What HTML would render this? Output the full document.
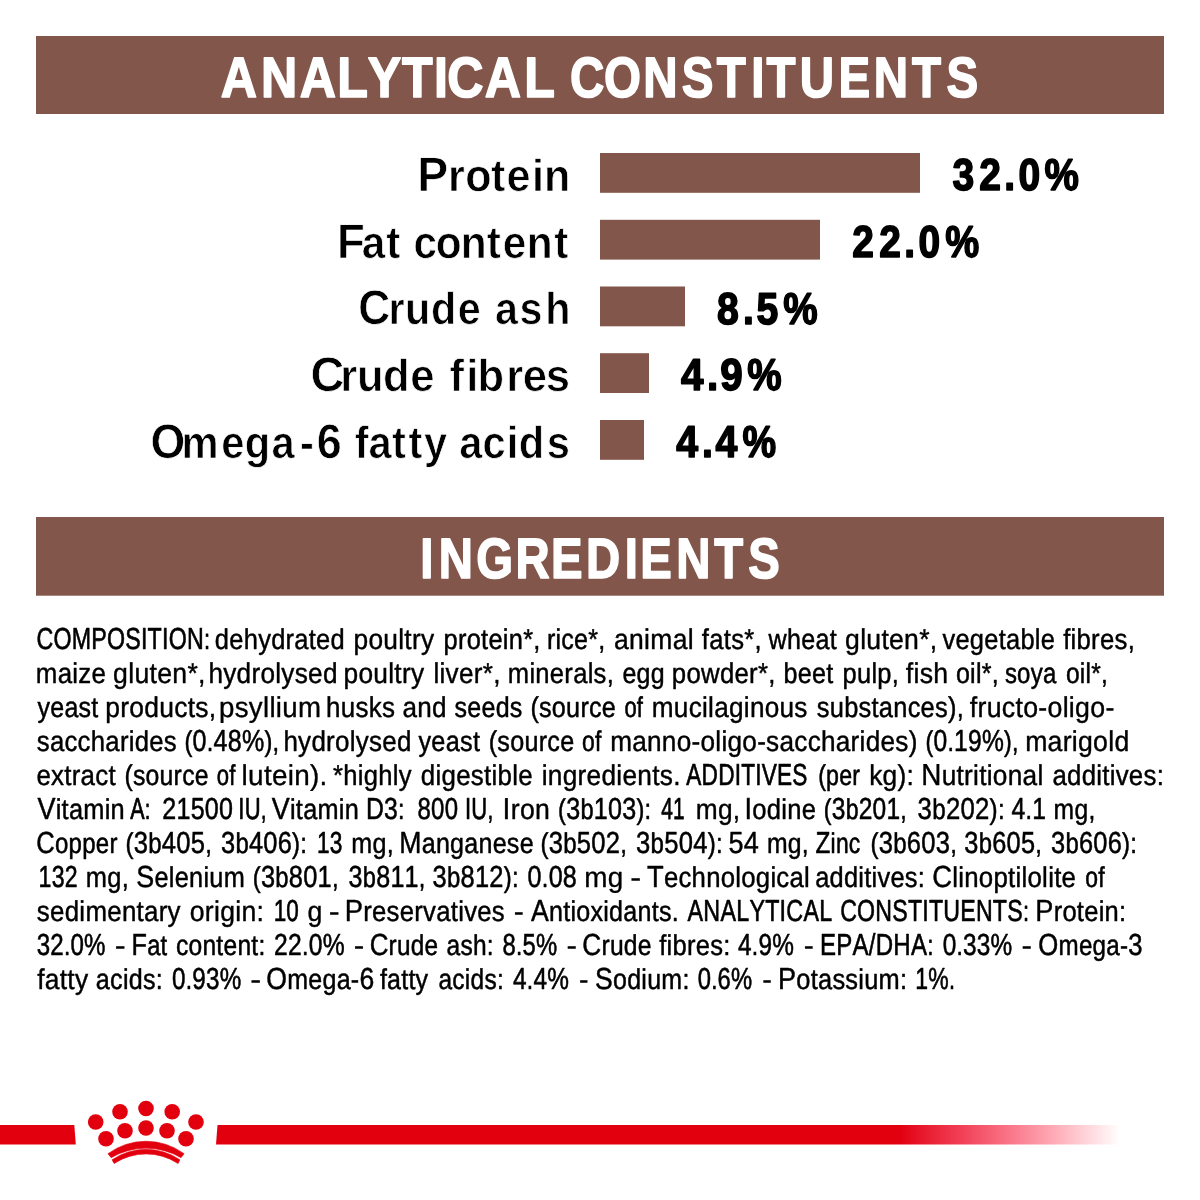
<!DOCTYPE html>
<html lang="en">
<head>
<meta charset="utf-8">
<title>Analytical constituents &amp; ingredients</title>
<style>
html,body{margin:0;padding:0;background:#fff;}
body{width:1200px;height:1200px;overflow:hidden;position:relative;font-family:"Liberation Sans", sans-serif;}
svg{position:absolute;left:0;top:0;display:block;will-change:transform;}
text{font-family:"Liberation Sans", sans-serif;white-space:pre;font-kerning:none;text-rendering:geometricPrecision;}
</style>
</head>
<body>
<svg width="1200" height="1200" viewBox="0 0 1200 1200">
<defs>
<linearGradient id="fade" gradientUnits="userSpaceOnUse" x1="900" y1="0" x2="1120" y2="0">
<stop offset="0" stop-color="#e2000f"/>
<stop offset="0.1" stop-color="#e8182c"/>
<stop offset="0.3" stop-color="#f2455b"/>
<stop offset="0.5" stop-color="#fa7689"/>
<stop offset="0.7" stop-color="#feabb6"/>
<stop offset="0.88" stop-color="#ffdde2"/>
<stop offset="1" stop-color="#ffffff"/>
</linearGradient>
</defs>
<rect x="0" y="0" width="1200" height="1200" fill="#fff"/>

<rect x="36" y="36" width="1128" height="78" fill="#82564a"/>
<rect x="36" y="517" width="1128" height="78.7" fill="#82564a"/>
<g id="headers">
<text transform="matrix(0.8838 0 0 1 0 0)" x="249.89 295.36 339.06 381.66 415.97 454.92 491.15 506.15 548.61 593.21" y="97.00" font-size="56.8" font-weight="bold" fill="#fff" stroke="#fff" stroke-width="1.6" stroke-linejoin="round">ANALYTICAL</text>
<text transform="matrix(0.8368 0 0 1 0 0)" x="681.32 721.81 768.67 814.85 856.65 897.79 915.92 955.82 1001.98 1044.23 1089.79 1131.11" y="97.00" font-size="56.8" font-weight="bold" fill="#fff" stroke="#fff" stroke-width="1.6" stroke-linejoin="round">CONSTITUENTS</text>
<text transform="matrix(0.8332 0 0 1 0 0)" x="504.25 526.62 571.59 618.79 661.39 703.35 749.68 768.33 811.61 857.11 898.10" y="578.00" font-size="56.8" font-weight="bold" fill="#fff" stroke="#fff" stroke-width="1.6" stroke-linejoin="round">INGREDIENTS</text>
</g>
<g id="chart">
<rect x="600" y="153.0" width="320" height="39.8" fill="#82564a"/>
<text transform="matrix(0.9556 0 0 1 0 0)" x="436.54 468.80 486.87 513.85 530.16 556.77 569.18" y="191.00" font-size="45.1" font-weight="bold" fill="#000" stroke="#fff" stroke-width="0.7"><tspan font-size="48.5">P</tspan>rotein</text>
<text transform="matrix(0.8762 0 0 1 0 0)" x="1087.18 1117.60 1146.12 1162.29" y="190.00" font-size="44.5" font-weight="bold" fill="#000" stroke="#000" stroke-width="1.6" stroke-linejoin="round">32.0</text>
<text x="1044.54" y="190.00" font-size="44.5" font-weight="bold" fill="#000" textLength="34.38" lengthAdjust="spacingAndGlyphs" stroke="#000" stroke-width="1.6" stroke-linejoin="round">%</text>
<rect x="600" y="219.8" width="220" height="39.8" fill="#82564a"/>
<text transform="matrix(0.9387 0 0 1 0 0)" x="359.01 385.40 411.42 425.91 440.52 464.28 490.88 518.48 535.66 561.29 590.46" y="258.00" font-size="45.1" font-weight="bold" fill="#000" stroke="#fff" stroke-width="0.7"><tspan font-size="48.5">F</tspan>at content</text>
<text transform="matrix(0.8735 0 0 1 0 0)" x="975.79 1006.63 1035.28 1051.49" y="257.00" font-size="44.5" font-weight="bold" fill="#000" stroke="#000" stroke-width="1.6" stroke-linejoin="round">22.0</text>
<text x="945.15" y="257.00" font-size="44.5" font-weight="bold" fill="#000" textLength="33.96" lengthAdjust="spacingAndGlyphs" stroke="#000" stroke-width="1.6" stroke-linejoin="round">%</text>
<rect x="600" y="286.5" width="85" height="39.8" fill="#82564a"/>
<text transform="matrix(0.9136 0 0 1 0 0)" x="392.23 425.13 443.37 471.64 501.10 524.76 541.84 568.50 596.93" y="324.00" font-size="45.1" font-weight="bold" fill="#000" stroke="#fff" stroke-width="0.7"><tspan font-size="48.5">C</tspan>rude ash</text>
<text transform="matrix(0.8792 0 0 1 0 0)" x="815.38 845.04 860.51" y="324.00" font-size="44.5" font-weight="bold" fill="#000" stroke="#000" stroke-width="1.6" stroke-linejoin="round">8.5</text>
<text x="783.14" y="324.00" font-size="44.5" font-weight="bold" fill="#000" textLength="34.38" lengthAdjust="spacingAndGlyphs" stroke="#000" stroke-width="1.6" stroke-linejoin="round">%</text>
<rect x="600" y="353.2" width="49" height="39.8" fill="#82564a"/>
<text transform="matrix(0.9658 0 0 1 0 0)" x="321.52 352.31 369.77 396.49 424.80 448.32 465.49 482.82 494.35 524.13 541.39 565.13" y="391.00" font-size="45.1" font-weight="bold" fill="#000" stroke="#fff" stroke-width="0.7"><tspan font-size="48.5">C</tspan>rude fibres</text>
<text transform="matrix(0.9077 0 0 1 0 0)" x="750.14 778.81 793.49" y="390.00" font-size="44.5" font-weight="bold" fill="#000" stroke="#000" stroke-width="1.6" stroke-linejoin="round">4.9</text>
<text x="747.14" y="390.00" font-size="44.5" font-weight="bold" fill="#000" textLength="34.38" lengthAdjust="spacingAndGlyphs" stroke="#000" stroke-width="1.6" stroke-linejoin="round">%</text>
<rect x="600" y="420.0" width="44" height="39.8" fill="#82564a"/>
<text transform="matrix(0.9224 0 0 1 0 0)" x="163.18 196.69 239.96 265.28 294.45 325.13 343.46 367.86 384.69 399.40 424.91 442.96 459.61 484.40 497.95 523.14 549.34 562.53 592.84" y="458.00" font-size="45.1" font-weight="bold" fill="#000" stroke="#fff" stroke-width="0.7"><tspan font-size="48.5">O</tspan>mega-<tspan font-size="48.5">6</tspan> fatty acids</text>
<text transform="matrix(0.8823 0 0 1 0 0)" x="766.44 795.58 811.06" y="457.00" font-size="44.5" font-weight="bold" fill="#000" stroke="#000" stroke-width="1.6" stroke-linejoin="round">4.4</text>
<text x="742.56" y="457.00" font-size="44.5" font-weight="bold" fill="#000" textLength="33.64" lengthAdjust="spacingAndGlyphs" stroke="#000" stroke-width="1.6" stroke-linejoin="round">%</text>
</g>
<g id="ingredients">
<g>
<text x="36.44" y="649.00" font-size="28.6" font-weight="normal" fill="#000" textLength="173.76" lengthAdjust="spacingAndGlyphs" letter-spacing="0.3" stroke="#000" stroke-width="0.64" stroke-linejoin="round"><tspan font-size="30.4">COMPOSITION</tspan>:</text>
<text x="214.86" y="649.00" font-size="28.6" font-weight="normal" fill="#000" textLength="130.12" lengthAdjust="spacingAndGlyphs" letter-spacing="0.3" stroke="#000" stroke-width="0.46" stroke-linejoin="round">dehydrated</text>
<text x="353.51" y="649.00" font-size="28.6" font-weight="normal" fill="#000" textLength="80.90" lengthAdjust="spacingAndGlyphs" letter-spacing="0.3" stroke="#000" stroke-width="0.42" stroke-linejoin="round">poultry</text>
<text x="443.60" y="649.00" font-size="28.6" font-weight="normal" fill="#000" textLength="97.02" lengthAdjust="spacingAndGlyphs" letter-spacing="0.3" stroke="#000" stroke-width="0.47" stroke-linejoin="round">protein*,</text>
<text x="546.88" y="649.00" font-size="28.6" font-weight="normal" fill="#000" textLength="58.70" lengthAdjust="spacingAndGlyphs" letter-spacing="0.3" stroke="#000" stroke-width="0.48" stroke-linejoin="round">rice*,</text>
<text x="614.08" y="649.00" font-size="28.6" font-weight="normal" fill="#000" textLength="79.77" lengthAdjust="spacingAndGlyphs" letter-spacing="0.3" stroke="#000" stroke-width="0.41" stroke-linejoin="round">animal</text>
<text x="701.87" y="649.00" font-size="28.6" font-weight="normal" fill="#000" textLength="59.97" lengthAdjust="spacingAndGlyphs" letter-spacing="0.3" stroke="#000" stroke-width="0.46" stroke-linejoin="round">fats*,</text>
<text x="768.58" y="649.00" font-size="28.6" font-weight="normal" fill="#000" textLength="68.33" lengthAdjust="spacingAndGlyphs" letter-spacing="0.3" stroke="#000" stroke-width="0.48" stroke-linejoin="round">wheat</text>
<text x="845.09" y="649.00" font-size="28.6" font-weight="normal" fill="#000" textLength="92.37" lengthAdjust="spacingAndGlyphs" letter-spacing="0.3" stroke="#000" stroke-width="0.41" stroke-linejoin="round">gluten*,</text>
<text x="942.44" y="649.00" font-size="28.6" font-weight="normal" fill="#000" textLength="112.72" lengthAdjust="spacingAndGlyphs" letter-spacing="0.3" stroke="#000" stroke-width="0.46" stroke-linejoin="round">vegetable</text>
<text x="1063.16" y="649.00" font-size="28.6" font-weight="normal" fill="#000" textLength="71.89" lengthAdjust="spacingAndGlyphs" letter-spacing="0.3" stroke="#000" stroke-width="0.45" stroke-linejoin="round">fibres,</text>
</g>
<g>
<text x="35.80" y="683.00" font-size="28.6" font-weight="normal" fill="#000" textLength="70.40" lengthAdjust="spacingAndGlyphs" letter-spacing="0.3" stroke="#000" stroke-width="0.44" stroke-linejoin="round">maize</text>
<text x="113.08" y="683.00" font-size="28.6" font-weight="normal" fill="#000" textLength="92.70" lengthAdjust="spacingAndGlyphs" letter-spacing="0.3" stroke="#000" stroke-width="0.4" stroke-linejoin="round">gluten*,</text>
<text x="208.40" y="683.00" font-size="28.6" font-weight="normal" fill="#000" textLength="129.35" lengthAdjust="spacingAndGlyphs" letter-spacing="0.3" stroke="#000" stroke-width="0.43" stroke-linejoin="round">hydrolysed</text>
<text x="343.51" y="683.00" font-size="28.6" font-weight="normal" fill="#000" textLength="80.90" lengthAdjust="spacingAndGlyphs" letter-spacing="0.3" stroke="#000" stroke-width="0.42" stroke-linejoin="round">poultry</text>
<text x="433.45" y="683.00" font-size="28.6" font-weight="normal" fill="#000" textLength="67.25" lengthAdjust="spacingAndGlyphs" letter-spacing="0.3" stroke="#000" stroke-width="0.43" stroke-linejoin="round">liver*,</text>
<text x="507.83" y="683.00" font-size="28.6" font-weight="normal" fill="#000" textLength="106.21" lengthAdjust="spacingAndGlyphs" letter-spacing="0.3" stroke="#000" stroke-width="0.46" stroke-linejoin="round">minerals,</text>
<text x="622.48" y="683.00" font-size="28.6" font-weight="normal" fill="#000" textLength="42.44" lengthAdjust="spacingAndGlyphs" letter-spacing="0.3" stroke="#000" stroke-width="0.49" stroke-linejoin="round">egg</text>
<text x="671.87" y="683.00" font-size="28.6" font-weight="normal" fill="#000" textLength="103.79" lengthAdjust="spacingAndGlyphs" letter-spacing="0.3" stroke="#000" stroke-width="0.45" stroke-linejoin="round">powder*,</text>
<text x="783.62" y="683.00" font-size="28.6" font-weight="normal" fill="#000" textLength="49.88" lengthAdjust="spacingAndGlyphs" letter-spacing="0.3" stroke="#000" stroke-width="0.48" stroke-linejoin="round">beet</text>
<text x="842.60" y="683.00" font-size="28.6" font-weight="normal" fill="#000" textLength="56.42" lengthAdjust="spacingAndGlyphs" letter-spacing="0.3" stroke="#000" stroke-width="0.47" stroke-linejoin="round">pulp,</text>
<text x="905.82" y="683.00" font-size="28.6" font-weight="normal" fill="#000" textLength="42.69" lengthAdjust="spacingAndGlyphs" letter-spacing="0.3" stroke="#000" stroke-width="0.4" stroke-linejoin="round">fish</text>
<text x="955.89" y="683.00" font-size="28.6" font-weight="normal" fill="#000" textLength="43.09" lengthAdjust="spacingAndGlyphs" letter-spacing="0.3" stroke="#000" stroke-width="0.48" stroke-linejoin="round">oil*,</text>
<text x="1004.90" y="683.00" font-size="28.6" font-weight="normal" fill="#000" textLength="51.58" lengthAdjust="spacingAndGlyphs" letter-spacing="0.3" stroke="#000" stroke-width="0.54" stroke-linejoin="round">soya</text>
<text x="1065.92" y="683.00" font-size="28.6" font-weight="normal" fill="#000" textLength="42.29" lengthAdjust="spacingAndGlyphs" letter-spacing="0.3" stroke="#000" stroke-width="0.51" stroke-linejoin="round">oil*,</text>
</g>
<g>
<text x="37.48" y="717.00" font-size="28.6" font-weight="normal" fill="#000" textLength="61.02" lengthAdjust="spacingAndGlyphs" letter-spacing="0.3" stroke="#000" stroke-width="0.49" stroke-linejoin="round">yeast</text>
<text x="105.21" y="717.00" font-size="28.6" font-weight="normal" fill="#000" textLength="111.24" lengthAdjust="spacingAndGlyphs" letter-spacing="0.3" stroke="#000" stroke-width="0.42" stroke-linejoin="round">products,</text>
<text x="219.10" y="717.00" font-size="28.6" font-weight="normal" fill="#000" textLength="102.13" lengthAdjust="spacingAndGlyphs" letter-spacing="0.3" stroke="#000" stroke-width="0.36" stroke-linejoin="round">psyllium</text>
<text x="326.12" y="717.00" font-size="28.6" font-weight="normal" fill="#000" textLength="69.17" lengthAdjust="spacingAndGlyphs" letter-spacing="0.3" stroke="#000" stroke-width="0.44" stroke-linejoin="round">husks</text>
<text x="402.41" y="717.00" font-size="28.6" font-weight="normal" fill="#000" textLength="44.33" lengthAdjust="spacingAndGlyphs" letter-spacing="0.3" stroke="#000" stroke-width="0.43" stroke-linejoin="round">and</text>
<text x="454.55" y="717.00" font-size="28.6" font-weight="normal" fill="#000" textLength="68.07" lengthAdjust="spacingAndGlyphs" letter-spacing="0.3" stroke="#000" stroke-width="0.49" stroke-linejoin="round">seeds</text>
<text x="530.38" y="717.00" font-size="28.6" font-weight="normal" fill="#000" textLength="85.76" lengthAdjust="spacingAndGlyphs" letter-spacing="0.3" stroke="#000" stroke-width="0.48" stroke-linejoin="round">(source</text>
<text x="624.39" y="717.00" font-size="28.6" font-weight="normal" fill="#000" textLength="18.79" lengthAdjust="spacingAndGlyphs" letter-spacing="0.3" stroke="#000" stroke-width="0.63" stroke-linejoin="round">of</text>
<text x="651.78" y="717.00" font-size="28.6" font-weight="normal" fill="#000" textLength="155.93" lengthAdjust="spacingAndGlyphs" letter-spacing="0.3" stroke="#000" stroke-width="0.43" stroke-linejoin="round">mucilaginous</text>
<text x="816.83" y="717.00" font-size="28.6" font-weight="normal" fill="#000" textLength="147.19" lengthAdjust="spacingAndGlyphs" letter-spacing="0.3" stroke="#000" stroke-width="0.47" stroke-linejoin="round">substances),</text>
<text x="969.82" y="717.00" font-size="28.6" font-weight="normal" fill="#000" textLength="144.75" lengthAdjust="spacingAndGlyphs" letter-spacing="0.3" stroke="#000" stroke-width="0.4" stroke-linejoin="round">fructo-oligo-</text>
</g>
<g>
<text x="36.81" y="751.00" font-size="28.6" font-weight="normal" fill="#000" textLength="140.16" lengthAdjust="spacingAndGlyphs" letter-spacing="0.3" stroke="#000" stroke-width="0.45" stroke-linejoin="round">saccharides</text>
<text x="184.52" y="751.00" font-size="28.6" font-weight="normal" fill="#000" textLength="94.87" lengthAdjust="spacingAndGlyphs" letter-spacing="0.3" stroke="#000" stroke-width="0.56" stroke-linejoin="round">(<tspan font-size="30.4">0</tspan>.<tspan font-size="30.4">48%</tspan>),</text>
<text x="283.42" y="751.00" font-size="28.6" font-weight="normal" fill="#000" textLength="128.31" lengthAdjust="spacingAndGlyphs" letter-spacing="0.3" stroke="#000" stroke-width="0.44" stroke-linejoin="round">hydrolysed</text>
<text x="418.47" y="751.00" font-size="28.6" font-weight="normal" fill="#000" textLength="61.74" lengthAdjust="spacingAndGlyphs" letter-spacing="0.3" stroke="#000" stroke-width="0.47" stroke-linejoin="round">yeast</text>
<text x="488.68" y="751.00" font-size="28.6" font-weight="normal" fill="#000" textLength="85.76" lengthAdjust="spacingAndGlyphs" letter-spacing="0.3" stroke="#000" stroke-width="0.48" stroke-linejoin="round">(source</text>
<text x="582.03" y="751.00" font-size="28.6" font-weight="normal" fill="#000" textLength="19.58" lengthAdjust="spacingAndGlyphs" letter-spacing="0.3" stroke="#000" stroke-width="0.59" stroke-linejoin="round">of</text>
<text x="610.18" y="751.00" font-size="28.6" font-weight="normal" fill="#000" textLength="307.50" lengthAdjust="spacingAndGlyphs" letter-spacing="0.3" stroke="#000" stroke-width="0.43" stroke-linejoin="round">manno-oligo-saccharides)</text>
<text x="925.55" y="751.00" font-size="28.6" font-weight="normal" fill="#000" textLength="93.18" lengthAdjust="spacingAndGlyphs" letter-spacing="0.3" stroke="#000" stroke-width="0.58" stroke-linejoin="round">(<tspan font-size="30.4">0</tspan>.<tspan font-size="30.4">19%</tspan>),</text>
<text x="1025.14" y="751.00" font-size="28.6" font-weight="normal" fill="#000" textLength="104.35" lengthAdjust="spacingAndGlyphs" letter-spacing="0.3" stroke="#000" stroke-width="0.41" stroke-linejoin="round">marigold</text>
</g>
<g>
<text x="36.42" y="785.00" font-size="28.6" font-weight="normal" fill="#000" textLength="79.52" lengthAdjust="spacingAndGlyphs" letter-spacing="0.3" stroke="#000" stroke-width="0.44" stroke-linejoin="round">extract</text>
<text x="124.41" y="785.00" font-size="28.6" font-weight="normal" fill="#000" textLength="84.40" lengthAdjust="spacingAndGlyphs" letter-spacing="0.3" stroke="#000" stroke-width="0.5" stroke-linejoin="round">(source</text>
<text x="216.69" y="785.00" font-size="28.6" font-weight="normal" fill="#000" textLength="18.90" lengthAdjust="spacingAndGlyphs" letter-spacing="0.3" stroke="#000" stroke-width="0.63" stroke-linejoin="round">of</text>
<text x="241.59" y="785.00" font-size="28.6" font-weight="normal" fill="#000" textLength="86.08" lengthAdjust="spacingAndGlyphs" letter-spacing="0.3" stroke="#000" stroke-width="0.34" stroke-linejoin="round">lutein).</text>
<text x="333.12" y="785.00" font-size="28.6" font-weight="normal" fill="#000" textLength="78.67" lengthAdjust="spacingAndGlyphs" letter-spacing="0.3" stroke="#000" stroke-width="0.46" stroke-linejoin="round">*highly</text>
<text x="420.83" y="785.00" font-size="28.6" font-weight="normal" fill="#000" textLength="112.07" lengthAdjust="spacingAndGlyphs" letter-spacing="0.3" stroke="#000" stroke-width="0.44" stroke-linejoin="round">digestible</text>
<text x="541.76" y="785.00" font-size="28.6" font-weight="normal" fill="#000" textLength="139.00" lengthAdjust="spacingAndGlyphs" letter-spacing="0.3" stroke="#000" stroke-width="0.43" stroke-linejoin="round">ingredients.</text>
<text x="686.29" y="785.00" font-size="28.6" font-weight="normal" fill="#000" textLength="121.33" lengthAdjust="spacingAndGlyphs" letter-spacing="0.3" stroke="#000" stroke-width="0.67" stroke-linejoin="round"><tspan font-size="30.4">ADDITIVES</tspan></text>
<text x="818.15" y="785.00" font-size="28.6" font-weight="normal" fill="#000" textLength="42.18" lengthAdjust="spacingAndGlyphs" letter-spacing="0.3" stroke="#000" stroke-width="0.58" stroke-linejoin="round">(per</text>
<text x="869.13" y="785.00" font-size="28.6" font-weight="normal" fill="#000" textLength="45.04" lengthAdjust="spacingAndGlyphs" letter-spacing="0.3" stroke="#000" stroke-width="0.42" stroke-linejoin="round">kg):</text>
<text x="921.23" y="785.00" font-size="28.6" font-weight="normal" fill="#000" textLength="122.29" lengthAdjust="spacingAndGlyphs" letter-spacing="0.3" stroke="#000" stroke-width="0.43" stroke-linejoin="round"><tspan font-size="30.4">N</tspan>utritional</text>
<text x="1052.43" y="785.00" font-size="28.6" font-weight="normal" fill="#000" textLength="111.67" lengthAdjust="spacingAndGlyphs" letter-spacing="0.3" stroke="#000" stroke-width="0.45" stroke-linejoin="round">additives:</text>
</g>
<g>
<text x="37.42" y="819.00" font-size="28.6" font-weight="normal" fill="#000" textLength="87.56" lengthAdjust="spacingAndGlyphs" letter-spacing="0.3" stroke="#000" stroke-width="0.47" stroke-linejoin="round"><tspan font-size="30.4">V</tspan>itamin</text>
<text x="130.32" y="819.00" font-size="28.6" font-weight="normal" fill="#000" textLength="20.38" lengthAdjust="spacingAndGlyphs" letter-spacing="0.3" stroke="#000" stroke-width="0.72" stroke-linejoin="round"><tspan font-size="30.4">A</tspan>:</text>
<text x="162.32" y="819.00" font-size="28.6" font-weight="normal" fill="#000" textLength="70.93" lengthAdjust="spacingAndGlyphs" letter-spacing="0.3" stroke="#000" stroke-width="0.56" stroke-linejoin="round"><tspan font-size="30.4">21500</tspan></text>
<text x="238.32" y="819.00" font-size="28.6" font-weight="normal" fill="#000" textLength="28.41" lengthAdjust="spacingAndGlyphs" letter-spacing="0.3" stroke="#000" stroke-width="0.7" stroke-linejoin="round"><tspan font-size="30.4">IU</tspan>,</text>
<text x="271.82" y="819.00" font-size="28.6" font-weight="normal" fill="#000" textLength="87.15" lengthAdjust="spacingAndGlyphs" letter-spacing="0.3" stroke="#000" stroke-width="0.47" stroke-linejoin="round"><tspan font-size="30.4">V</tspan>itamin</text>
<text x="365.96" y="819.00" font-size="28.6" font-weight="normal" fill="#000" textLength="38.83" lengthAdjust="spacingAndGlyphs" letter-spacing="0.3" stroke="#000" stroke-width="0.57" stroke-linejoin="round"><tspan font-size="30.4">D3</tspan>:</text>
<text x="417.57" y="819.00" font-size="28.6" font-weight="normal" fill="#000" textLength="40.60" lengthAdjust="spacingAndGlyphs" letter-spacing="0.3" stroke="#000" stroke-width="0.61" stroke-linejoin="round"><tspan font-size="30.4">800</tspan></text>
<text x="465.02" y="819.00" font-size="28.6" font-weight="normal" fill="#000" textLength="28.41" lengthAdjust="spacingAndGlyphs" letter-spacing="0.3" stroke="#000" stroke-width="0.7" stroke-linejoin="round"><tspan font-size="30.4">IU</tspan>,</text>
<text x="502.59" y="819.00" font-size="28.6" font-weight="normal" fill="#000" textLength="47.52" lengthAdjust="spacingAndGlyphs" letter-spacing="0.3" stroke="#000" stroke-width="0.41" stroke-linejoin="round"><tspan font-size="30.4">I</tspan>ron</text>
<text x="558.11" y="819.00" font-size="28.6" font-weight="normal" fill="#000" textLength="93.32" lengthAdjust="spacingAndGlyphs" letter-spacing="0.3" stroke="#000" stroke-width="0.55" stroke-linejoin="round">(<tspan font-size="30.4">3</tspan>b<tspan font-size="30.4">103</tspan>):</text>
<text x="661.20" y="819.00" font-size="28.6" font-weight="normal" fill="#000" textLength="23.66" lengthAdjust="spacingAndGlyphs" letter-spacing="0.3" stroke="#000" stroke-width="0.75" stroke-linejoin="round"><tspan font-size="30.4">41</tspan></text>
<text x="695.76" y="819.00" font-size="28.6" font-weight="normal" fill="#000" textLength="44.66" lengthAdjust="spacingAndGlyphs" letter-spacing="0.3" stroke="#000" stroke-width="0.42" stroke-linejoin="round">mg,</text>
<text x="744.42" y="819.00" font-size="28.6" font-weight="normal" fill="#000" textLength="71.75" lengthAdjust="spacingAndGlyphs" letter-spacing="0.3" stroke="#000" stroke-width="0.46" stroke-linejoin="round"><tspan font-size="30.4">I</tspan>odine</text>
<text x="823.86" y="819.00" font-size="28.6" font-weight="normal" fill="#000" textLength="83.17" lengthAdjust="spacingAndGlyphs" letter-spacing="0.3" stroke="#000" stroke-width="0.58" stroke-linejoin="round">(<tspan font-size="30.4">3</tspan>b<tspan font-size="30.4">201</tspan>,</text>
<text x="917.58" y="819.00" font-size="28.6" font-weight="normal" fill="#000" textLength="87.33" lengthAdjust="spacingAndGlyphs" letter-spacing="0.3" stroke="#000" stroke-width="0.52" stroke-linejoin="round"><tspan font-size="30.4">3</tspan>b<tspan font-size="30.4">202</tspan>):</text>
<text x="1011.42" y="819.00" font-size="28.6" font-weight="normal" fill="#000" textLength="34.75" lengthAdjust="spacingAndGlyphs" letter-spacing="0.3" stroke="#000" stroke-width="0.57" stroke-linejoin="round"><tspan font-size="30.4">4</tspan>.<tspan font-size="30.4">1</tspan></text>
<text x="1053.61" y="819.00" font-size="28.6" font-weight="normal" fill="#000" textLength="41.91" lengthAdjust="spacingAndGlyphs" letter-spacing="0.3" stroke="#000" stroke-width="0.5" stroke-linejoin="round">mg,</text>
</g>
<g>
<text x="36.27" y="853.00" font-size="28.6" font-weight="normal" fill="#000" textLength="81.42" lengthAdjust="spacingAndGlyphs" letter-spacing="0.3" stroke="#000" stroke-width="0.53" stroke-linejoin="round"><tspan font-size="30.4">C</tspan>opper</text>
<text x="125.47" y="853.00" font-size="28.6" font-weight="normal" fill="#000" textLength="86.67" lengthAdjust="spacingAndGlyphs" letter-spacing="0.3" stroke="#000" stroke-width="0.53" stroke-linejoin="round">(<tspan font-size="30.4">3</tspan>b<tspan font-size="30.4">405</tspan>,</text>
<text x="221.00" y="853.00" font-size="28.6" font-weight="normal" fill="#000" textLength="86.16" lengthAdjust="spacingAndGlyphs" letter-spacing="0.3" stroke="#000" stroke-width="0.54" stroke-linejoin="round"><tspan font-size="30.4">3</tspan>b<tspan font-size="30.4">406</tspan>):</text>
<text x="316.90" y="853.00" font-size="28.6" font-weight="normal" fill="#000" textLength="25.69" lengthAdjust="spacingAndGlyphs" letter-spacing="0.3" stroke="#000" stroke-width="0.66" stroke-linejoin="round"><tspan font-size="30.4">13</tspan></text>
<text x="351.27" y="853.00" font-size="28.6" font-weight="normal" fill="#000" textLength="42.71" lengthAdjust="spacingAndGlyphs" letter-spacing="0.3" stroke="#000" stroke-width="0.48" stroke-linejoin="round">mg,</text>
<text x="399.26" y="853.00" font-size="28.6" font-weight="normal" fill="#000" textLength="134.58" lengthAdjust="spacingAndGlyphs" letter-spacing="0.3" stroke="#000" stroke-width="0.48" stroke-linejoin="round"><tspan font-size="30.4">M</tspan>anganese</text>
<text x="540.47" y="853.00" font-size="28.6" font-weight="normal" fill="#000" textLength="86.67" lengthAdjust="spacingAndGlyphs" letter-spacing="0.3" stroke="#000" stroke-width="0.53" stroke-linejoin="round">(<tspan font-size="30.4">3</tspan>b<tspan font-size="30.4">502</tspan>,</text>
<text x="635.99" y="853.00" font-size="28.6" font-weight="normal" fill="#000" textLength="86.90" lengthAdjust="spacingAndGlyphs" letter-spacing="0.3" stroke="#000" stroke-width="0.53" stroke-linejoin="round"><tspan font-size="30.4">3</tspan>b<tspan font-size="30.4">504</tspan>):</text>
<text x="728.44" y="853.00" font-size="28.6" font-weight="normal" fill="#000" textLength="30.69" lengthAdjust="spacingAndGlyphs" letter-spacing="0.3" stroke="#000" stroke-width="0.46" stroke-linejoin="round"><tspan font-size="30.4">54</tspan></text>
<text x="766.91" y="853.00" font-size="28.6" font-weight="normal" fill="#000" textLength="42.03" lengthAdjust="spacingAndGlyphs" letter-spacing="0.3" stroke="#000" stroke-width="0.5" stroke-linejoin="round">mg,</text>
<text x="815.52" y="853.00" font-size="28.6" font-weight="normal" fill="#000" textLength="45.02" lengthAdjust="spacingAndGlyphs" letter-spacing="0.3" stroke="#000" stroke-width="0.59" stroke-linejoin="round"><tspan font-size="30.4">Z</tspan>inc</text>
<text x="870.47" y="853.00" font-size="28.6" font-weight="normal" fill="#000" textLength="86.67" lengthAdjust="spacingAndGlyphs" letter-spacing="0.3" stroke="#000" stroke-width="0.53" stroke-linejoin="round">(<tspan font-size="30.4">3</tspan>b<tspan font-size="30.4">603</tspan>,</text>
<text x="964.30" y="853.00" font-size="28.6" font-weight="normal" fill="#000" textLength="77.82" lengthAdjust="spacingAndGlyphs" letter-spacing="0.3" stroke="#000" stroke-width="0.54" stroke-linejoin="round"><tspan font-size="30.4">3</tspan>b<tspan font-size="30.4">605</tspan>,</text>
<text x="1051.00" y="853.00" font-size="28.6" font-weight="normal" fill="#000" textLength="86.16" lengthAdjust="spacingAndGlyphs" letter-spacing="0.3" stroke="#000" stroke-width="0.54" stroke-linejoin="round"><tspan font-size="30.4">3</tspan>b<tspan font-size="30.4">606</tspan>):</text>
</g>
<g>
<text x="38.57" y="887.00" font-size="28.6" font-weight="normal" fill="#000" textLength="39.20" lengthAdjust="spacingAndGlyphs" letter-spacing="0.3" stroke="#000" stroke-width="0.65" stroke-linejoin="round"><tspan font-size="30.4">132</tspan></text>
<text x="85.85" y="887.00" font-size="28.6" font-weight="normal" fill="#000" textLength="43.17" lengthAdjust="spacingAndGlyphs" letter-spacing="0.3" stroke="#000" stroke-width="0.47" stroke-linejoin="round">mg,</text>
<text x="136.31" y="887.00" font-size="28.6" font-weight="normal" fill="#000" textLength="108.69" lengthAdjust="spacingAndGlyphs" letter-spacing="0.3" stroke="#000" stroke-width="0.47" stroke-linejoin="round"><tspan font-size="30.4">S</tspan>elenium</text>
<text x="252.79" y="887.00" font-size="28.6" font-weight="normal" fill="#000" textLength="86.03" lengthAdjust="spacingAndGlyphs" letter-spacing="0.3" stroke="#000" stroke-width="0.54" stroke-linejoin="round">(<tspan font-size="30.4">3</tspan>b<tspan font-size="30.4">801</tspan>,</text>
<text x="348.62" y="887.00" font-size="28.6" font-weight="normal" fill="#000" textLength="76.97" lengthAdjust="spacingAndGlyphs" letter-spacing="0.3" stroke="#000" stroke-width="0.55" stroke-linejoin="round"><tspan font-size="30.4">3</tspan>b<tspan font-size="30.4">811</tspan>,</text>
<text x="432.60" y="887.00" font-size="28.6" font-weight="normal" fill="#000" textLength="86.26" lengthAdjust="spacingAndGlyphs" letter-spacing="0.3" stroke="#000" stroke-width="0.54" stroke-linejoin="round"><tspan font-size="30.4">3</tspan>b<tspan font-size="30.4">812</tspan>):</text>
<text x="527.59" y="887.00" font-size="28.6" font-weight="normal" fill="#000" textLength="49.47" lengthAdjust="spacingAndGlyphs" letter-spacing="0.3" stroke="#000" stroke-width="0.55" stroke-linejoin="round"><tspan font-size="30.4">0</tspan>.<tspan font-size="30.4">08</tspan></text>
<text x="584.32" y="887.00" font-size="28.6" font-weight="normal" fill="#000" textLength="39.29" lengthAdjust="spacingAndGlyphs" letter-spacing="0.3" stroke="#000" stroke-width="0.35" stroke-linejoin="round">mg</text>
<text x="630.39" y="887.00" font-size="28.6" font-weight="normal" fill="#000" textLength="11.26" lengthAdjust="spacingAndGlyphs" letter-spacing="0.3" stroke="#000" stroke-width="0.3" stroke-linejoin="round">-</text>
<text x="646.91" y="887.00" font-size="28.6" font-weight="normal" fill="#000" textLength="163.15" lengthAdjust="spacingAndGlyphs" letter-spacing="0.3" stroke="#000" stroke-width="0.45" stroke-linejoin="round"><tspan font-size="30.4">T</tspan>echnological</text>
<text x="815.16" y="887.00" font-size="28.6" font-weight="normal" fill="#000" textLength="109.89" lengthAdjust="spacingAndGlyphs" letter-spacing="0.3" stroke="#000" stroke-width="0.47" stroke-linejoin="round">additives:</text>
<text x="932.13" y="887.00" font-size="28.6" font-weight="normal" fill="#000" textLength="144.06" lengthAdjust="spacingAndGlyphs" letter-spacing="0.3" stroke="#000" stroke-width="0.45" stroke-linejoin="round"><tspan font-size="30.4">C</tspan>linoptilolite</text>
<text x="1085.33" y="887.00" font-size="28.6" font-weight="normal" fill="#000" textLength="19.58" lengthAdjust="spacingAndGlyphs" letter-spacing="0.3" stroke="#000" stroke-width="0.59" stroke-linejoin="round">of</text>
</g>
<g>
<text x="36.80" y="921.00" font-size="28.6" font-weight="normal" fill="#000" textLength="144.00" lengthAdjust="spacingAndGlyphs" letter-spacing="0.3" stroke="#000" stroke-width="0.44" stroke-linejoin="round">sedimentary</text>
<text x="189.79" y="921.00" font-size="28.6" font-weight="normal" fill="#000" textLength="74.42" lengthAdjust="spacingAndGlyphs" letter-spacing="0.3" stroke="#000" stroke-width="0.41" stroke-linejoin="round">origin:</text>
<text x="273.63" y="921.00" font-size="28.6" font-weight="normal" fill="#000" textLength="25.43" lengthAdjust="spacingAndGlyphs" letter-spacing="0.3" stroke="#000" stroke-width="0.68" stroke-linejoin="round"><tspan font-size="30.4">10</tspan></text>
<text x="307.38" y="921.00" font-size="28.6" font-weight="normal" fill="#000" textLength="15.12" lengthAdjust="spacingAndGlyphs" letter-spacing="0.3" stroke="#000" stroke-width="0.4" stroke-linejoin="round">g</text>
<text x="328.69" y="921.00" font-size="28.6" font-weight="normal" fill="#000" textLength="11.26" lengthAdjust="spacingAndGlyphs" letter-spacing="0.3" stroke="#000" stroke-width="0.3" stroke-linejoin="round">-</text>
<text x="344.68" y="921.00" font-size="28.6" font-weight="normal" fill="#000" textLength="160.29" lengthAdjust="spacingAndGlyphs" letter-spacing="0.3" stroke="#000" stroke-width="0.45" stroke-linejoin="round"><tspan font-size="30.4">P</tspan>reservatives</text>
<text x="513.80" y="921.00" font-size="28.6" font-weight="normal" fill="#000" textLength="10.41" lengthAdjust="spacingAndGlyphs" letter-spacing="0.3" stroke="#000" stroke-width="0.3" stroke-linejoin="round">-</text>
<text x="530.89" y="921.00" font-size="28.6" font-weight="normal" fill="#000" textLength="148.13" lengthAdjust="spacingAndGlyphs" letter-spacing="0.3" stroke="#000" stroke-width="0.48" stroke-linejoin="round"><tspan font-size="30.4">A</tspan>ntioxidants.</text>
<text x="687.57" y="921.00" font-size="28.6" font-weight="normal" fill="#000" textLength="144.81" lengthAdjust="spacingAndGlyphs" letter-spacing="0.3" stroke="#000" stroke-width="0.64" stroke-linejoin="round"><tspan font-size="30.4">ANALYTICAL</tspan></text>
<text x="840.14" y="921.00" font-size="28.6" font-weight="normal" fill="#000" textLength="189.05" lengthAdjust="spacingAndGlyphs" letter-spacing="0.3" stroke="#000" stroke-width="0.64" stroke-linejoin="round"><tspan font-size="30.4">CONSTITUENTS</tspan>:</text>
<text x="1035.31" y="921.00" font-size="28.6" font-weight="normal" fill="#000" textLength="91.06" lengthAdjust="spacingAndGlyphs" letter-spacing="0.3" stroke="#000" stroke-width="0.46" stroke-linejoin="round"><tspan font-size="30.4">P</tspan>rotein:</text>
</g>
<g>
<text x="36.68" y="955.00" font-size="28.6" font-weight="normal" fill="#000" textLength="69.11" lengthAdjust="spacingAndGlyphs" letter-spacing="0.3" stroke="#000" stroke-width="0.6" stroke-linejoin="round"><tspan font-size="30.4">32</tspan>.<tspan font-size="30.4">0%</tspan></text>
<text x="114.69" y="955.00" font-size="28.6" font-weight="normal" fill="#000" textLength="11.26" lengthAdjust="spacingAndGlyphs" letter-spacing="0.3" stroke="#000" stroke-width="0.3" stroke-linejoin="round">-</text>
<text x="131.51" y="955.00" font-size="28.6" font-weight="normal" fill="#000" textLength="35.94" lengthAdjust="spacingAndGlyphs" letter-spacing="0.3" stroke="#000" stroke-width="0.55" stroke-linejoin="round"><tspan font-size="30.4">F</tspan>at</text>
<text x="175.91" y="955.00" font-size="28.6" font-weight="normal" fill="#000" textLength="89.64" lengthAdjust="spacingAndGlyphs" letter-spacing="0.3" stroke="#000" stroke-width="0.51" stroke-linejoin="round">content:</text>
<text x="274.04" y="955.00" font-size="28.6" font-weight="normal" fill="#000" textLength="70.79" lengthAdjust="spacingAndGlyphs" letter-spacing="0.3" stroke="#000" stroke-width="0.57" stroke-linejoin="round"><tspan font-size="30.4">22</tspan>.<tspan font-size="30.4">0%</tspan></text>
<text x="353.75" y="955.00" font-size="28.6" font-weight="normal" fill="#000" textLength="10.83" lengthAdjust="spacingAndGlyphs" letter-spacing="0.3" stroke="#000" stroke-width="0.3" stroke-linejoin="round">-</text>
<text x="369.65" y="955.00" font-size="28.6" font-weight="normal" fill="#000" textLength="68.73" lengthAdjust="spacingAndGlyphs" letter-spacing="0.3" stroke="#000" stroke-width="0.52" stroke-linejoin="round"><tspan font-size="30.4">C</tspan>rude</text>
<text x="446.51" y="955.00" font-size="28.6" font-weight="normal" fill="#000" textLength="47.43" lengthAdjust="spacingAndGlyphs" letter-spacing="0.3" stroke="#000" stroke-width="0.51" stroke-linejoin="round">ash:</text>
<text x="502.57" y="955.00" font-size="28.6" font-weight="normal" fill="#000" textLength="54.91" lengthAdjust="spacingAndGlyphs" letter-spacing="0.3" stroke="#000" stroke-width="0.61" stroke-linejoin="round"><tspan font-size="30.4">8</tspan>.<tspan font-size="30.4">5%</tspan></text>
<text x="566.45" y="955.00" font-size="28.6" font-weight="normal" fill="#000" textLength="10.83" lengthAdjust="spacingAndGlyphs" letter-spacing="0.3" stroke="#000" stroke-width="0.3" stroke-linejoin="round">-</text>
<text x="582.22" y="955.00" font-size="28.6" font-weight="normal" fill="#000" textLength="69.59" lengthAdjust="spacingAndGlyphs" letter-spacing="0.3" stroke="#000" stroke-width="0.5" stroke-linejoin="round"><tspan font-size="30.4">C</tspan>rude</text>
<text x="659.17" y="955.00" font-size="28.6" font-weight="normal" fill="#000" textLength="71.50" lengthAdjust="spacingAndGlyphs" letter-spacing="0.3" stroke="#000" stroke-width="0.46" stroke-linejoin="round">fibres:</text>
<text x="738.04" y="955.00" font-size="28.6" font-weight="normal" fill="#000" textLength="56.08" lengthAdjust="spacingAndGlyphs" letter-spacing="0.3" stroke="#000" stroke-width="0.59" stroke-linejoin="round"><tspan font-size="30.4">4</tspan>.<tspan font-size="30.4">9%</tspan></text>
<text x="803.80" y="955.00" font-size="28.6" font-weight="normal" fill="#000" textLength="10.41" lengthAdjust="spacingAndGlyphs" letter-spacing="0.3" stroke="#000" stroke-width="0.3" stroke-linejoin="round">-</text>
<text x="820.03" y="955.00" font-size="28.6" font-weight="normal" fill="#000" textLength="113.67" lengthAdjust="spacingAndGlyphs" letter-spacing="0.3" stroke="#000" stroke-width="0.6" stroke-linejoin="round"><tspan font-size="30.4">EPA/DHA</tspan>:</text>
<text x="942.64" y="955.00" font-size="28.6" font-weight="normal" fill="#000" textLength="69.87" lengthAdjust="spacingAndGlyphs" letter-spacing="0.3" stroke="#000" stroke-width="0.59" stroke-linejoin="round"><tspan font-size="30.4">0</tspan>.<tspan font-size="30.4">33%</tspan></text>
<text x="1021.45" y="955.00" font-size="28.6" font-weight="normal" fill="#000" textLength="10.83" lengthAdjust="spacingAndGlyphs" letter-spacing="0.3" stroke="#000" stroke-width="0.3" stroke-linejoin="round">-</text>
<text x="1038.35" y="955.00" font-size="28.6" font-weight="normal" fill="#000" textLength="104.47" lengthAdjust="spacingAndGlyphs" letter-spacing="0.3" stroke="#000" stroke-width="0.53" stroke-linejoin="round"><tspan font-size="30.4">O</tspan>mega-<tspan font-size="30.4">3</tspan></text>
</g>
<g>
<text x="37.14" y="989.00" font-size="28.6" font-weight="normal" fill="#000" textLength="51.28" lengthAdjust="spacingAndGlyphs" letter-spacing="0.3" stroke="#000" stroke-width="0.42" stroke-linejoin="round">fatty</text>
<text x="95.87" y="989.00" font-size="28.6" font-weight="normal" fill="#000" textLength="67.14" lengthAdjust="spacingAndGlyphs" letter-spacing="0.3" stroke="#000" stroke-width="0.48" stroke-linejoin="round">acids:</text>
<text x="172.05" y="989.00" font-size="28.6" font-weight="normal" fill="#000" textLength="69.46" lengthAdjust="spacingAndGlyphs" letter-spacing="0.3" stroke="#000" stroke-width="0.59" stroke-linejoin="round"><tspan font-size="30.4">0</tspan>.<tspan font-size="30.4">93%</tspan></text>
<text x="250.39" y="989.00" font-size="28.6" font-weight="normal" fill="#000" textLength="11.26" lengthAdjust="spacingAndGlyphs" letter-spacing="0.3" stroke="#000" stroke-width="0.3" stroke-linejoin="round">-</text>
<text x="266.29" y="989.00" font-size="28.6" font-weight="normal" fill="#000" textLength="108.20" lengthAdjust="spacingAndGlyphs" letter-spacing="0.3" stroke="#000" stroke-width="0.49" stroke-linejoin="round"><tspan font-size="30.4">O</tspan>mega-<tspan font-size="30.4">6</tspan></text>
<text x="379.89" y="989.00" font-size="28.6" font-weight="normal" fill="#000" textLength="48.47" lengthAdjust="spacingAndGlyphs" letter-spacing="0.3" stroke="#000" stroke-width="0.49" stroke-linejoin="round">fatty</text>
<text x="438.52" y="989.00" font-size="28.6" font-weight="normal" fill="#000" textLength="65.42" lengthAdjust="spacingAndGlyphs" letter-spacing="0.3" stroke="#000" stroke-width="0.51" stroke-linejoin="round">acids:</text>
<text x="513.04" y="989.00" font-size="28.6" font-weight="normal" fill="#000" textLength="56.08" lengthAdjust="spacingAndGlyphs" letter-spacing="0.3" stroke="#000" stroke-width="0.59" stroke-linejoin="round"><tspan font-size="30.4">4</tspan>.<tspan font-size="30.4">4%</tspan></text>
<text x="578.88" y="989.00" font-size="28.6" font-weight="normal" fill="#000" textLength="9.83" lengthAdjust="spacingAndGlyphs" letter-spacing="0.3" stroke="#000" stroke-width="0.31" stroke-linejoin="round">-</text>
<text x="595.04" y="989.00" font-size="28.6" font-weight="normal" fill="#000" textLength="94.56" lengthAdjust="spacingAndGlyphs" letter-spacing="0.3" stroke="#000" stroke-width="0.49" stroke-linejoin="round"><tspan font-size="30.4">S</tspan>odium:</text>
<text x="697.68" y="989.00" font-size="28.6" font-weight="normal" fill="#000" textLength="54.80" lengthAdjust="spacingAndGlyphs" letter-spacing="0.3" stroke="#000" stroke-width="0.61" stroke-linejoin="round"><tspan font-size="30.4">0</tspan>.<tspan font-size="30.4">6%</tspan></text>
<text x="762.16" y="989.00" font-size="28.6" font-weight="normal" fill="#000" textLength="9.99" lengthAdjust="spacingAndGlyphs" letter-spacing="0.3" stroke="#000" stroke-width="0.3" stroke-linejoin="round">-</text>
<text x="778.02" y="989.00" font-size="28.6" font-weight="normal" fill="#000" textLength="129.33" lengthAdjust="spacingAndGlyphs" letter-spacing="0.3" stroke="#000" stroke-width="0.47" stroke-linejoin="round"><tspan font-size="30.4">P</tspan>otassium:</text>
<text x="915.27" y="989.00" font-size="28.6" font-weight="normal" fill="#000" textLength="39.90" lengthAdjust="spacingAndGlyphs" letter-spacing="0.3" stroke="#000" stroke-width="0.65" stroke-linejoin="round"><tspan font-size="30.4">1%</tspan>.</text>
</g>
</g>
<g id="footer">
<polygon points="0,1125 74.3,1125 75.8,1144.5 0,1144.5" fill="#e2000f"/>
<polygon points="217.5,1125 1120,1125 1120,1144.5 216,1144.5" fill="url(#fade)"/>
<circle cx="95.7" cy="1122" r="7.8" fill="#e2000f"/>
<circle cx="120" cy="1111.8" r="7.8" fill="#e2000f"/>
<circle cx="146" cy="1108.5" r="7.8" fill="#e2000f"/>
<circle cx="172.2" cy="1111.8" r="7.8" fill="#e2000f"/>
<circle cx="196" cy="1122" r="7.8" fill="#e2000f"/>
<circle cx="106" cy="1138.8" r="7.8" fill="#e2000f"/>
<circle cx="125" cy="1130.7" r="7.8" fill="#e2000f"/>
<circle cx="146" cy="1128" r="7.8" fill="#e2000f"/>
<circle cx="167" cy="1130.7" r="7.8" fill="#e2000f"/>
<circle cx="186" cy="1138.8" r="7.8" fill="#e2000f"/>
<path d="M107.9 1153.7 A64.4 64.4 0 0 1 184.1 1153.7 L181 1157.7 A68.6 68.6 0 0 0 111.2 1157.7 Z" fill="#e2000f" stroke="#e2000f" stroke-width="0.6" stroke-linejoin="round"/>
<path d="M112.1 1159.8 A59.7 59.7 0 0 1 179.9 1159.8 L178.1 1163.5 A58.5 58.5 0 0 0 114.1 1163.5 Z" fill="#e2000f" stroke="#e2000f" stroke-width="0.6" stroke-linejoin="round"/>
</g>
</svg>
</body>
</html>
